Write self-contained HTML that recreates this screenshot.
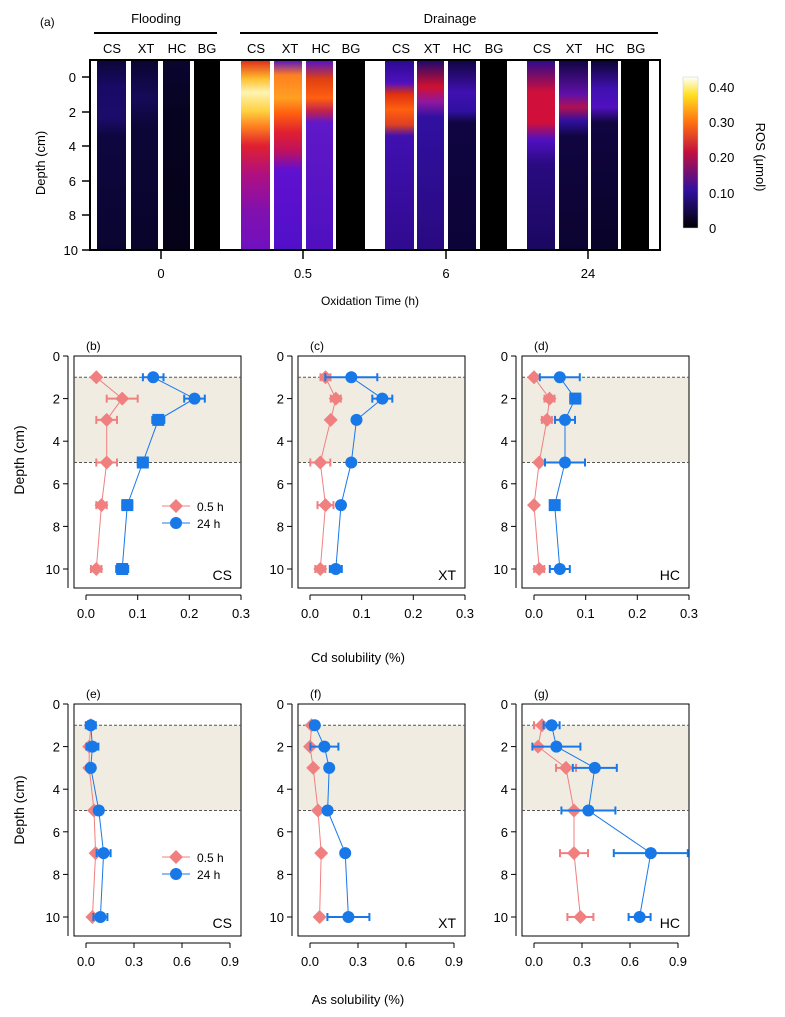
<!DOCTYPE html>
<html><head><meta charset="utf-8"><style>
html,body{margin:0;padding:0;background:#fff;}
svg{display:block;font-family:"Liberation Sans",Arial,sans-serif;}
</style></head><body>
<svg width="785" height="1017" viewBox="0 0 785 1017" xmlns="http://www.w3.org/2000/svg">
<defs>
<linearGradient id="f1" x1="0" y1="60" x2="0" y2="250" gradientUnits="userSpaceOnUse"><stop offset="0" stop-color="#0c0638"/><stop offset="0.15" stop-color="#1a0a68"/><stop offset="0.3" stop-color="#1c0c6a"/><stop offset="0.4" stop-color="#0e0640"/><stop offset="1" stop-color="#0a0530"/></linearGradient>
<linearGradient id="f2" x1="0" y1="60" x2="0" y2="250" gradientUnits="userSpaceOnUse"><stop offset="0" stop-color="#0a0530"/><stop offset="0.2" stop-color="#160a58"/><stop offset="0.35" stop-color="#0c0638"/><stop offset="1" stop-color="#08042a"/></linearGradient>
<linearGradient id="f3" x1="0" y1="60" x2="0" y2="250" gradientUnits="userSpaceOnUse"><stop offset="0" stop-color="#0a0530"/><stop offset="0.3" stop-color="#060320"/><stop offset="1" stop-color="#050218"/></linearGradient>
<linearGradient id="a1" x1="0" y1="60" x2="0" y2="250" gradientUnits="userSpaceOnUse"><stop offset="0" stop-color="#e02818"/><stop offset="0.1" stop-color="#ffc030"/><stop offset="0.17" stop-color="#fff4b0"/><stop offset="0.27" stop-color="#ffd040"/><stop offset="0.35" stop-color="#ff8020"/><stop offset="0.45" stop-color="#e02030"/><stop offset="0.6" stop-color="#b01080"/><stop offset="0.8" stop-color="#8010b0"/><stop offset="1" stop-color="#7010c0"/></linearGradient>
<linearGradient id="a2" x1="0" y1="60" x2="0" y2="250" gradientUnits="userSpaceOnUse"><stop offset="0" stop-color="#5010d0"/><stop offset="0.08" stop-color="#ff8020"/><stop offset="0.2" stop-color="#ffa020"/><stop offset="0.28" stop-color="#ff6010"/><stop offset="0.38" stop-color="#e02030"/><stop offset="0.48" stop-color="#c01060"/><stop offset="0.58" stop-color="#6010d0"/><stop offset="1" stop-color="#5010c8"/></linearGradient>
<linearGradient id="a3" x1="0" y1="60" x2="0" y2="250" gradientUnits="userSpaceOnUse"><stop offset="0" stop-color="#5010d0"/><stop offset="0.1" stop-color="#e04010"/><stop offset="0.2" stop-color="#ff6010"/><stop offset="0.27" stop-color="#c02050"/><stop offset="0.33" stop-color="#6018c8"/><stop offset="1" stop-color="#5010c0"/></linearGradient>
<linearGradient id="b1" x1="0" y1="60" x2="0" y2="250" gradientUnits="userSpaceOnUse"><stop offset="0" stop-color="#2a0a90"/><stop offset="0.12" stop-color="#5010c0"/><stop offset="0.18" stop-color="#e03010"/><stop offset="0.26" stop-color="#ff6010"/><stop offset="0.34" stop-color="#e04020"/><stop offset="0.4" stop-color="#4010b0"/><stop offset="1" stop-color="#300a90"/></linearGradient>
<linearGradient id="b2" x1="0" y1="60" x2="0" y2="250" gradientUnits="userSpaceOnUse"><stop offset="0" stop-color="#1a0870"/><stop offset="0.14" stop-color="#d01030"/><stop offset="0.22" stop-color="#9018a0"/><stop offset="0.3" stop-color="#3010a0"/><stop offset="1" stop-color="#2a0a80"/></linearGradient>
<linearGradient id="b3" x1="0" y1="60" x2="0" y2="250" gradientUnits="userSpaceOnUse"><stop offset="0" stop-color="#100540"/><stop offset="0.17" stop-color="#4010b0"/><stop offset="0.27" stop-color="#3010a0"/><stop offset="0.33" stop-color="#100540"/><stop offset="1" stop-color="#0c0438"/></linearGradient>
<linearGradient id="c1" x1="0" y1="60" x2="0" y2="250" gradientUnits="userSpaceOnUse"><stop offset="0" stop-color="#2a0a90"/><stop offset="0.17" stop-color="#d0103a"/><stop offset="0.33" stop-color="#d0103a"/><stop offset="0.42" stop-color="#5010c0"/><stop offset="0.55" stop-color="#2a0a80"/><stop offset="1" stop-color="#1a0860"/></linearGradient>
<linearGradient id="c2" x1="0" y1="60" x2="0" y2="250" gradientUnits="userSpaceOnUse"><stop offset="0" stop-color="#100540"/><stop offset="0.18" stop-color="#6010a8"/><stop offset="0.25" stop-color="#b01050"/><stop offset="0.32" stop-color="#3010a0"/><stop offset="0.4" stop-color="#100540"/><stop offset="1" stop-color="#0c0430"/></linearGradient>
<linearGradient id="c3" x1="0" y1="60" x2="0" y2="250" gradientUnits="userSpaceOnUse"><stop offset="0" stop-color="#0a0430"/><stop offset="0.15" stop-color="#4010b0"/><stop offset="0.25" stop-color="#5010c0"/><stop offset="0.33" stop-color="#100540"/><stop offset="1" stop-color="#080328"/></linearGradient>
<linearGradient id="cb" x1="0" y1="1" x2="0" y2="0"><stop offset="0" stop-color="#000"/><stop offset="0.25" stop-color="#3010a0"/><stop offset="0.5" stop-color="#c01040"/><stop offset="0.7" stop-color="#ff7010"/><stop offset="0.88" stop-color="#ffe020"/><stop offset="1" stop-color="#fff"/></linearGradient>
</defs>

<!-- Panel (a) -->
<text x="40" y="26" font-size="12">(a)</text>
<text x="156" y="23" font-size="13" text-anchor="middle">Flooding</text>
<text x="450" y="23" font-size="13" text-anchor="middle">Drainage</text>
<line x1="94" y1="33" x2="217" y2="33" stroke="#000" stroke-width="2"/>
<line x1="240" y1="33" x2="658" y2="33" stroke="#000" stroke-width="2"/>
<g font-size="13" text-anchor="middle">
<text x="112" y="53">CS</text><text x="146" y="53">XT</text><text x="177" y="53">HC</text><text x="207" y="53">BG</text>
<text x="256" y="53">CS</text><text x="290" y="53">XT</text><text x="321" y="53">HC</text><text x="351" y="53">BG</text>
<text x="401" y="53">CS</text><text x="432" y="53">XT</text><text x="462" y="53">HC</text><text x="494" y="53">BG</text>
<text x="542" y="53">CS</text><text x="574" y="53">XT</text><text x="605" y="53">HC</text><text x="636" y="53">BG</text>
</g>
<rect x="90" y="60" width="570" height="190" fill="#fff"/>
<rect x="97" y="60" width="29" height="190" fill="url(#f1)"/>
<rect x="131" y="60" width="27" height="190" fill="url(#f2)"/>
<rect x="163" y="60" width="27" height="190" fill="url(#f3)"/>
<rect x="194" y="60" width="26" height="190" fill="#000"/>
<rect x="241" y="60" width="29" height="190" fill="url(#a1)"/>
<rect x="274" y="60" width="28" height="190" fill="url(#a2)"/>
<rect x="306" y="60" width="27" height="190" fill="url(#a3)"/>
<rect x="336" y="60" width="29" height="190" fill="#000"/>
<rect x="385" y="60" width="29" height="190" fill="url(#b1)"/>
<rect x="417" y="60" width="27" height="190" fill="url(#b2)"/>
<rect x="448" y="60" width="28" height="190" fill="url(#b3)"/>
<rect x="480" y="60" width="27" height="190" fill="#000"/>
<rect x="527" y="60" width="28" height="190" fill="url(#c1)"/>
<rect x="559" y="60" width="29" height="190" fill="url(#c2)"/>
<rect x="591" y="60" width="27" height="190" fill="url(#c3)"/>
<rect x="621" y="60" width="28" height="190" fill="#000"/>
<rect x="90" y="60" width="570" height="190" fill="none" stroke="#000" stroke-width="2"/>
<g stroke="#000" stroke-width="1.5">
<line x1="82" y1="77" x2="90" y2="77"/><line x1="82" y1="112" x2="90" y2="112"/><line x1="82" y1="146" x2="90" y2="146"/><line x1="82" y1="181" x2="90" y2="181"/><line x1="82" y1="215" x2="90" y2="215"/><line x1="82" y1="250" x2="90" y2="250"/>
<line x1="161" y1="250" x2="161" y2="259"/><line x1="303" y1="250" x2="303" y2="259"/><line x1="446" y1="250" x2="446" y2="259"/><line x1="588" y1="250" x2="588" y2="259"/>
</g>
<g font-size="13" text-anchor="end">
<text x="76" y="82">0</text><text x="76" y="117">2</text><text x="76" y="151">4</text><text x="76" y="186">6</text><text x="76" y="220">8</text><text x="78" y="255">10</text>
</g>
<g font-size="13" text-anchor="middle">
<text x="161" y="278">0</text><text x="303" y="278">0.5</text><text x="446" y="278">6</text><text x="588" y="278">24</text>
<text x="370" y="305" font-size="12">Oxidation Time (h)</text>
</g>
<text transform="translate(45,163) rotate(-90)" font-size="13" text-anchor="middle">Depth (cm)</text>
<rect x="683" y="77" width="15" height="151" fill="url(#cb)" stroke="#ccc" stroke-width="0.5"/>
<g font-size="13"><text x="709" y="92">0.40</text><text x="709" y="127">0.30</text><text x="709" y="162">0.20</text><text x="709" y="198">0.10</text><text x="709" y="233">0</text></g>
<text transform="translate(756,157) rotate(90)" font-size="13" text-anchor="middle">ROS (μmol)</text>

<!-- Row 1 panels common -->
<g id="row1">
<g transform="translate(0,0)">
<rect x="74" y="377.3" width="167" height="85.2" fill="#f0ece2"/>
</g>
</g>

<!-- Panel b,c,d frames -->
<g>
<g transform="translate(0,0)"><rect x="74" y="377.3" width="167" height="85.2" fill="#f0ece2"/></g>
<g transform="translate(224,0)"><rect x="74" y="377.3" width="167" height="85.2" fill="#f0ece2"/></g>
<g transform="translate(448,0)"><rect x="74" y="377.3" width="167" height="85.2" fill="#f0ece2"/></g>
<g transform="translate(0,348)"><rect x="74" y="377.3" width="167" height="85.2" fill="#f0ece2"/></g>
<g transform="translate(224,348)"><rect x="74" y="377.3" width="167" height="85.2" fill="#f0ece2"/></g>
<g transform="translate(448,348)"><rect x="74" y="377.3" width="167" height="85.2" fill="#f0ece2"/></g>
</g>

<!-- Axes for all 6 panels -->
<g fill="none" stroke="#000" stroke-width="1">
<g id="ax">
<rect x="74" y="356" width="167" height="232"/>
<line x1="68" y1="356" x2="68" y2="588"/>
<line x1="63" y1="356" x2="68" y2="356"/><line x1="63" y1="398.6" x2="68" y2="398.6"/><line x1="63" y1="441.2" x2="68" y2="441.2"/><line x1="63" y1="483.8" x2="68" y2="483.8"/><line x1="63" y1="526.4" x2="68" y2="526.4"/><line x1="63" y1="569" x2="68" y2="569"/>
<line x1="86" y1="595" x2="241" y2="595"/>
<line x1="86" y1="595" x2="86" y2="600"/><line x1="137.7" y1="595" x2="137.7" y2="600"/><line x1="189.3" y1="595" x2="189.3" y2="600"/><line x1="241" y1="595" x2="241" y2="600"/>
<line x1="74" y1="377.3" x2="241" y2="377.3" stroke="#555" stroke-dasharray="3,2"/>
<line x1="74" y1="462.5" x2="241" y2="462.5" stroke="#555" stroke-dasharray="3,2"/>
</g>
</g>
<g fill="none" stroke="#000" stroke-width="1">
<g transform="translate(224,0)"><rect x="74" y="356" width="167" height="232"/><line x1="68" y1="356" x2="68" y2="588"/><line x1="63" y1="356" x2="68" y2="356"/><line x1="63" y1="398.6" x2="68" y2="398.6"/><line x1="63" y1="441.2" x2="68" y2="441.2"/><line x1="63" y1="483.8" x2="68" y2="483.8"/><line x1="63" y1="526.4" x2="68" y2="526.4"/><line x1="63" y1="569" x2="68" y2="569"/><line x1="86" y1="595" x2="241" y2="595"/><line x1="86" y1="595" x2="86" y2="600"/><line x1="137.7" y1="595" x2="137.7" y2="600"/><line x1="189.3" y1="595" x2="189.3" y2="600"/><line x1="241" y1="595" x2="241" y2="600"/><line x1="74" y1="377.3" x2="241" y2="377.3" stroke="#555" stroke-dasharray="3,2"/><line x1="74" y1="462.5" x2="241" y2="462.5" stroke="#555" stroke-dasharray="3,2"/></g>
<g transform="translate(448,0)"><rect x="74" y="356" width="167" height="232"/><line x1="68" y1="356" x2="68" y2="588"/><line x1="63" y1="356" x2="68" y2="356"/><line x1="63" y1="398.6" x2="68" y2="398.6"/><line x1="63" y1="441.2" x2="68" y2="441.2"/><line x1="63" y1="483.8" x2="68" y2="483.8"/><line x1="63" y1="526.4" x2="68" y2="526.4"/><line x1="63" y1="569" x2="68" y2="569"/><line x1="86" y1="595" x2="241" y2="595"/><line x1="86" y1="595" x2="86" y2="600"/><line x1="137.7" y1="595" x2="137.7" y2="600"/><line x1="189.3" y1="595" x2="189.3" y2="600"/><line x1="241" y1="595" x2="241" y2="600"/><line x1="74" y1="377.3" x2="241" y2="377.3" stroke="#555" stroke-dasharray="3,2"/><line x1="74" y1="462.5" x2="241" y2="462.5" stroke="#555" stroke-dasharray="3,2"/></g>
<g transform="translate(0,348)"><rect x="74" y="356" width="167" height="232"/><line x1="68" y1="356" x2="68" y2="588"/><line x1="63" y1="356" x2="68" y2="356"/><line x1="63" y1="398.6" x2="68" y2="398.6"/><line x1="63" y1="441.2" x2="68" y2="441.2"/><line x1="63" y1="483.8" x2="68" y2="483.8"/><line x1="63" y1="526.4" x2="68" y2="526.4"/><line x1="63" y1="569" x2="68" y2="569"/><line x1="86" y1="595" x2="230" y2="595"/><line x1="86" y1="595" x2="86" y2="600"/><line x1="134" y1="595" x2="134" y2="600"/><line x1="182" y1="595" x2="182" y2="600"/><line x1="230" y1="595" x2="230" y2="600"/><line x1="74" y1="377.3" x2="241" y2="377.3" stroke="#555" stroke-dasharray="3,2"/><line x1="74" y1="462.5" x2="241" y2="462.5" stroke="#555" stroke-dasharray="3,2"/></g>
<g transform="translate(224,348)"><rect x="74" y="356" width="167" height="232"/><line x1="68" y1="356" x2="68" y2="588"/><line x1="63" y1="356" x2="68" y2="356"/><line x1="63" y1="398.6" x2="68" y2="398.6"/><line x1="63" y1="441.2" x2="68" y2="441.2"/><line x1="63" y1="483.8" x2="68" y2="483.8"/><line x1="63" y1="526.4" x2="68" y2="526.4"/><line x1="63" y1="569" x2="68" y2="569"/><line x1="86" y1="595" x2="230" y2="595"/><line x1="86" y1="595" x2="86" y2="600"/><line x1="134" y1="595" x2="134" y2="600"/><line x1="182" y1="595" x2="182" y2="600"/><line x1="230" y1="595" x2="230" y2="600"/><line x1="74" y1="377.3" x2="241" y2="377.3" stroke="#555" stroke-dasharray="3,2"/><line x1="74" y1="462.5" x2="241" y2="462.5" stroke="#555" stroke-dasharray="3,2"/></g>
<g transform="translate(448,348)"><rect x="74" y="356" width="167" height="232"/><line x1="68" y1="356" x2="68" y2="588"/><line x1="63" y1="356" x2="68" y2="356"/><line x1="63" y1="398.6" x2="68" y2="398.6"/><line x1="63" y1="441.2" x2="68" y2="441.2"/><line x1="63" y1="483.8" x2="68" y2="483.8"/><line x1="63" y1="526.4" x2="68" y2="526.4"/><line x1="63" y1="569" x2="68" y2="569"/><line x1="86" y1="595" x2="230" y2="595"/><line x1="86" y1="595" x2="86" y2="600"/><line x1="134" y1="595" x2="134" y2="600"/><line x1="182" y1="595" x2="182" y2="600"/><line x1="230" y1="595" x2="230" y2="600"/><line x1="74" y1="377.3" x2="241" y2="377.3" stroke="#555" stroke-dasharray="3,2"/><line x1="74" y1="462.5" x2="241" y2="462.5" stroke="#555" stroke-dasharray="3,2"/></g>
</g>

<!-- tick labels -->
<g font-size="13" text-anchor="end">
<g><text x="60" y="361">0</text><text x="60" y="403.6">2</text><text x="60" y="446.2">4</text><text x="60" y="488.8">6</text><text x="60" y="531.4">8</text><text x="60" y="574">10</text></g>
<g transform="translate(224,0)"><text x="60" y="361">0</text><text x="60" y="403.6">2</text><text x="60" y="446.2">4</text><text x="60" y="488.8">6</text><text x="60" y="531.4">8</text><text x="60" y="574">10</text></g>
<g transform="translate(448,0)"><text x="60" y="361">0</text><text x="60" y="403.6">2</text><text x="60" y="446.2">4</text><text x="60" y="488.8">6</text><text x="60" y="531.4">8</text><text x="60" y="574">10</text></g>
<g transform="translate(0,348)"><text x="60" y="361">0</text><text x="60" y="403.6">2</text><text x="60" y="446.2">4</text><text x="60" y="488.8">6</text><text x="60" y="531.4">8</text><text x="60" y="574">10</text></g>
<g transform="translate(224,348)"><text x="60" y="361">0</text><text x="60" y="403.6">2</text><text x="60" y="446.2">4</text><text x="60" y="488.8">6</text><text x="60" y="531.4">8</text><text x="60" y="574">10</text></g>
<g transform="translate(448,348)"><text x="60" y="361">0</text><text x="60" y="403.6">2</text><text x="60" y="446.2">4</text><text x="60" y="488.8">6</text><text x="60" y="531.4">8</text><text x="60" y="574">10</text></g>
</g>
<g font-size="13" text-anchor="middle">
<g><text x="86" y="618">0.0</text><text x="137.7" y="618">0.1</text><text x="189.3" y="618">0.2</text><text x="241" y="618">0.3</text></g>
<g transform="translate(224,0)"><text x="86" y="618">0.0</text><text x="137.7" y="618">0.1</text><text x="189.3" y="618">0.2</text><text x="241" y="618">0.3</text></g>
<g transform="translate(448,0)"><text x="86" y="618">0.0</text><text x="137.7" y="618">0.1</text><text x="189.3" y="618">0.2</text><text x="241" y="618">0.3</text></g>
<g transform="translate(0,348)"><text x="86" y="618">0.0</text><text x="134" y="618">0.3</text><text x="182" y="618">0.6</text><text x="230" y="618">0.9</text></g>
<g transform="translate(224,348)"><text x="86" y="618">0.0</text><text x="134" y="618">0.3</text><text x="182" y="618">0.6</text><text x="230" y="618">0.9</text></g>
<g transform="translate(448,348)"><text x="86" y="618">0.0</text><text x="134" y="618">0.3</text><text x="182" y="618">0.6</text><text x="230" y="618">0.9</text></g>
</g>
<g font-size="12">
<text x="86" y="350">(b)</text><text x="310" y="350">(c)</text><text x="534" y="350">(d)</text>
<text x="86" y="698">(e)</text><text x="310" y="698">(f)</text><text x="534" y="698">(g)</text>
</g>
<g font-size="14" text-anchor="end">
<text x="232" y="580">CS</text><text x="456" y="580">XT</text><text x="680" y="580">HC</text>
<text x="232" y="928">CS</text><text x="456" y="928">XT</text><text x="680" y="928">HC</text>
</g>
<text x="358" y="662" font-size="13" text-anchor="middle">Cd solubility (%)</text>
<text x="358" y="1004" font-size="13" text-anchor="middle">As solubility (%)</text>
<text transform="translate(24,460) rotate(-90)" font-size="14" text-anchor="middle">Depth (cm)</text>
<text transform="translate(24,810) rotate(-90)" font-size="14" text-anchor="middle">Depth (cm)</text>

<!-- Data b -->
<g stroke="#f08080" fill="#f08080" stroke-width="1">
<polyline fill="none" points="96.3,377.3 122.2,398.6 106.7,419.9 106.7,462.5 101.5,505.1 96.3,569"/>
<g stroke-width="2"><path d="M106.7,398.6H137.7M106.7,394.6V402.6M137.7,394.6V402.6M96.3,419.9H117M96.3,415.9V423.9M117,415.9V423.9M96.3,462.5H117M96.3,458.5V466.5M117,458.5V466.5M96.3,505.1H106.7M96.3,501.1V509.1M106.7,501.1V509.1M91,569H101.5M91,565V573M101.5,565V573"/></g>
<path stroke="none" d="M96.3,370.3l7,7l-7,7l-7,-7zM122.2,391.6l7,7l-7,7l-7,-7zM106.7,412.9l7,7l-7,7l-7,-7zM106.7,455.5l7,7l-7,7l-7,-7zM101.5,498.1l7,7l-7,7l-7,-7zM96.3,562l7,7l-7,7l-7,-7z"/>
</g>
<g stroke="#1878e8" fill="#1878e8" stroke-width="1">
<polyline fill="none" points="153.2,377.3 194.5,398.6 158.3,419.9 142.8,462.5 127.3,505.1 122.2,569"/>
<path stroke-width="2" d="M142.9,377.3H163.5M142.9,373.3V381.3M163.5,373.3V381.3M184.2,398.6H204.8M184.2,394.6V402.6M204.8,394.6V402.6M152.3,419.9H164.3M152.3,415.9V423.9M164.3,415.9V423.9M137.8,462.5H147.8M137.8,458.5V466.5M147.8,458.5V466.5M122.3,505.1H132.3M122.3,501.1V509.1M132.3,501.1V509.1M116.2,569H128.2M116.2,565V573M128.2,565V573"/>
<g stroke="none"><circle cx="153.2" cy="377.3" r="6"/><circle cx="194.5" cy="398.6" r="6"/><rect x="152.3" y="413.9" width="12" height="12"/><rect x="136.8" y="456.5" width="12" height="12"/><rect x="121.3" y="499.1" width="12" height="12"/><rect x="116.2" y="563" width="12" height="12"/></g>
</g>
<!-- legend b -->
<line x1="162" y1="506" x2="190" y2="506" stroke="#f08080"/><path d="M176,499l7,7l-7,7l-7,-7z" fill="#f08080"/>
<line x1="162" y1="523" x2="190" y2="523" stroke="#1878e8"/><circle cx="176" cy="523" r="6" fill="#1878e8"/>
<text x="197" y="511" font-size="12">0.5 h</text><text x="197" y="528" font-size="12">24 h</text>

<!-- Data c -->
<g transform="translate(224,0)">
<g stroke="#f08080" fill="#f08080" stroke-width="1">
<polyline fill="none" points="101.5,377.3 111.8,398.6 106.7,419.9 96.3,462.5 101.5,505.1 96.3,569"/>
<path stroke-width="2" d="M96.5,377.3H106.5M96.5,373.3V381.3M106.5,373.3V381.3M106.8,398.6H116.8M106.8,394.6V402.6M116.8,394.6V402.6M102.7,419.9H110.7M86.3,462.5H106.3M86.3,458.5V466.5M106.3,458.5V466.5M93.5,505.1H109.5M93.5,501.1V509.1M109.5,501.1V509.1M91.3,569H101.3M91.3,565V573M101.3,565V573"/>
<path stroke="none" d="M101.5,370.3l7,7l-7,7l-7,-7zM111.8,391.6l7,7l-7,7l-7,-7zM106.7,412.9l7,7l-7,7l-7,-7zM96.3,455.5l7,7l-7,7l-7,-7zM101.5,498.1l7,7l-7,7l-7,-7zM96.3,562l7,7l-7,7l-7,-7z"/>
</g>
<g stroke="#1878e8" fill="#1878e8" stroke-width="1">
<polyline fill="none" points="127.3,377.3 158.3,398.6 132.5,419.9 127.3,462.5 117,505.1 111.8,569"/>
<path stroke-width="2" d="M101.3,377.3H153.3M101.3,373.3V381.3M153.3,373.3V381.3M148.3,398.6H168.3M148.3,394.6V402.6M168.3,394.6V402.6M127.3,419.9H137.7M122.3,462.5H132.3M105.8,569H117.8M105.8,565V573M117.8,565V573"/>
<g stroke="none"><circle cx="127.3" cy="377.3" r="6"/><circle cx="158.3" cy="398.6" r="6"/><circle cx="132.5" cy="419.9" r="6"/><circle cx="127.3" cy="462.5" r="6"/><circle cx="117" cy="505.1" r="6"/><circle cx="111.8" cy="569" r="6"/></g>
</g>
</g>

<!-- Data d -->
<g transform="translate(448,0)">
<g stroke="#f08080" fill="#f08080" stroke-width="1">
<polyline fill="none" points="86,377.3 101.5,398.6 98.9,419.9 91.2,462.5 86,505.1 91.2,569"/>
<path stroke-width="2" d="M81,377.3H91M96.5,398.6H106.5M96.5,394.6V402.6M106.5,394.6V402.6M93.9,419.9H103.9M93.9,415.9V423.9M103.9,415.9V423.9M86.2,462.5H96.2M86.2,569H96.2M86.2,565V573M96.2,565V573"/>
<path stroke="none" d="M86,370.3l7,7l-7,7l-7,-7zM101.5,391.6l7,7l-7,7l-7,-7zM98.9,412.9l7,7l-7,7l-7,-7zM91.2,455.5l7,7l-7,7l-7,-7zM86,498.1l7,7l-7,7l-7,-7zM91.2,562l7,7l-7,7l-7,-7z"/>
</g>
<g stroke="#1878e8" fill="#1878e8" stroke-width="1">
<polyline fill="none" points="111.8,377.3 127.3,398.6 117,419.9 117,462.5 106.7,505.1 111.8,569"/>
<path stroke-width="2" d="M91.8,377.3H131.8M91.8,373.3V381.3M131.8,373.3V381.3M122.3,398.6H132.3M122.3,394.6V402.6M132.3,394.6V402.6M107,419.9H127M107,415.9V423.9M127,415.9V423.9M97,462.5H137M97,458.5V466.5M137,458.5V466.5M102.7,505.1H110.7M101.8,569H121.8M101.8,565V573M121.8,565V573"/>
<g stroke="none"><circle cx="111.8" cy="377.3" r="6"/><rect x="121.3" y="392.6" width="12" height="12"/><circle cx="117" cy="419.9" r="6"/><circle cx="117" cy="462.5" r="6"/><rect x="100.7" y="499.1" width="12" height="12"/><circle cx="111.8" cy="569" r="6"/></g>
</g>
</g>

<!-- Data e -->
<g transform="translate(0,348)">
<g stroke="#f08080" fill="#f08080" stroke-width="1">
<polyline fill="none" points="90.8,377.3 89.2,398.6 89.2,419.9 94,462.5 95.6,505.1 92.4,569"/>
<path stroke="none" d="M90.8,370.3l7,7l-7,7l-7,-7zM89.2,391.6l7,7l-7,7l-7,-7zM89.2,412.9l7,7l-7,7l-7,-7zM94,455.5l7,7l-7,7l-7,-7zM95.6,498.1l7,7l-7,7l-7,-7zM92.4,562l7,7l-7,7l-7,-7z"/>
</g>
<g stroke="#1878e8" fill="#1878e8" stroke-width="1">
<polyline fill="none" points="90.8,377.3 92.4,398.6 90.8,419.9 98.8,462.5 103.6,505.1 100.4,569"/>
<path stroke-width="2" d="M85.8,377.3H95.8M85.8,373.3V381.3M95.8,373.3V381.3M86.4,398.6H98.4M86.4,394.6V402.6M98.4,394.6V402.6M95.8,462.5H101.8M96.6,505.1H110.6M96.6,501.1V509.1M110.6,501.1V509.1M93.4,569H107.4M93.4,565V573M107.4,565V573"/>
<g stroke="none"><circle cx="90.8" cy="377.3" r="6"/><circle cx="92.4" cy="398.6" r="6"/><circle cx="90.8" cy="419.9" r="6"/><circle cx="98.8" cy="462.5" r="6"/><circle cx="103.6" cy="505.1" r="6"/><circle cx="100.4" cy="569" r="6"/></g>
</g>
<line x1="162" y1="509" x2="190" y2="509" stroke="#f08080"/><path d="M176,502l7,7l-7,7l-7,-7z" fill="#f08080"/>
<line x1="162" y1="526" x2="190" y2="526" stroke="#1878e8"/><circle cx="176" cy="526" r="6" fill="#1878e8"/>
<text x="197" y="514" font-size="12">0.5 h</text><text x="197" y="531" font-size="12">24 h</text>
</g>

<!-- Data f -->
<g transform="translate(224,348)">
<g stroke="#f08080" fill="#f08080" stroke-width="1">
<polyline fill="none" points="87.6,377.3 86,398.6 89.2,419.9 94,462.5 97.2,505.1 95.6,569"/>
<path stroke="none" d="M87.6,370.3l7,7l-7,7l-7,-7zM86,391.6l7,7l-7,7l-7,-7zM89.2,412.9l7,7l-7,7l-7,-7zM94,455.5l7,7l-7,7l-7,-7zM97.2,498.1l7,7l-7,7l-7,-7zM95.6,562l7,7l-7,7l-7,-7z"/>
</g>
<g stroke="#1878e8" fill="#1878e8" stroke-width="1">
<polyline fill="none" points="90.8,377.3 100.4,398.6 105.2,419.9 103.6,462.5 121.2,505.1 124.4,569"/>
<path stroke-width="2" d="M86.4,398.6H114.4M86.4,394.6V402.6M114.4,394.6V402.6M103.4,569H145.4M103.4,565V573M145.4,565V573"/>
<g stroke="none"><circle cx="90.8" cy="377.3" r="6"/><circle cx="100.4" cy="398.6" r="6"/><circle cx="105.2" cy="419.9" r="6"/><circle cx="103.6" cy="462.5" r="6"/><circle cx="121.2" cy="505.1" r="6"/><circle cx="124.4" cy="569" r="6"/></g>
</g>
</g>

<!-- Data g -->
<g transform="translate(448,348)">
<g stroke="#f08080" fill="#f08080" stroke-width="1">
<polyline fill="none" points="94,377.3 90,398.6 118,419.9 126,462.5 126,505.1 132.4,569"/>
<path stroke-width="2" d="M86,377.3H102M86,373.3V381.3M102,373.3V381.3M87,398.6H93M108,419.9H128M108,415.9V423.9M128,415.9V423.9M112,505.1H140M112,501.1V509.1M140,501.1V509.1M119.4,569H145.4M119.4,565V573M145.4,565V573"/>
<path stroke="none" d="M94,370.3l7,7l-7,7l-7,-7zM90,391.6l7,7l-7,7l-7,-7zM118,412.9l7,7l-7,7l-7,-7zM126,455.5l7,7l-7,7l-7,-7zM126,498.1l7,7l-7,7l-7,-7zM132.4,562l7,7l-7,7l-7,-7z"/>
</g>
<g stroke="#1878e8" fill="#1878e8" stroke-width="1">
<polyline fill="none" points="103.6,377.3 108.4,398.6 146.8,419.9 140.4,462.5 202.8,505.1 191.6,569"/>
<path stroke-width="2" d="M95.6,377.3H111.6M95.6,373.3V381.3M111.6,373.3V381.3M84.4,398.6H132.4M84.4,394.6V402.6M132.4,394.6V402.6M124.8,419.9H168.8M124.8,415.9V423.9M168.8,415.9V423.9M113.4,462.5H167.4M113.4,458.5V466.5M167.4,458.5V466.5M165.8,505.1H239.8M165.8,501.1V509.1M239.8,501.1V509.1M180.6,569H202.6M180.6,565V573M202.6,565V573"/>
<g stroke="none"><circle cx="103.6" cy="377.3" r="6"/><circle cx="108.4" cy="398.6" r="6"/><circle cx="146.8" cy="419.9" r="6"/><circle cx="140.4" cy="462.5" r="6"/><circle cx="202.8" cy="505.1" r="6"/><circle cx="191.6" cy="569" r="6"/></g>
</g>
</g>
</svg>
</body></html>
